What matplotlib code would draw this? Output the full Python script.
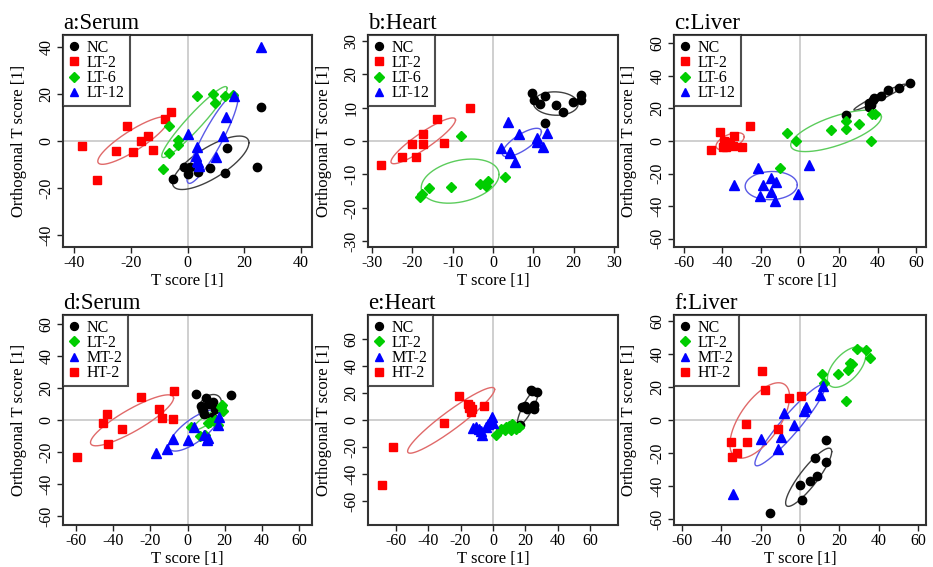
import numpy as np
import matplotlib.pyplot as plt
from matplotlib.lines import Line2D

plt.rcParams["font.family"] = ["Liberation Serif", "DejaVu Serif"]
plt.rcParams["axes.unicode_minus"] = False
plt.rcParams["font.size"] = 12
plt.rcParams["axes.linewidth"] = 1.5

# ---- a:Serum ----
a_nc_x = [-5.3, -1.4, 0.1, 0.9, 3.7, 8.1, 13.1, 14.0, 24.5, 25.9]
a_nc_y = [-16.3, -11.2, -13.8, -11.2, -13.0, -11.6, -13.5, -3.1, -10.9, 14.6]
a_lt2_x = [-37.4, -32.1, -25.1, -21.4, -19.3, -16.5, -13.8, -12.3, -8.1, -5.9]
a_lt2_y = [-2.1, -16.6, -4.1, 6.5, -4.8, 0.1, 2.1, -3.8, 9.2, 12.5]
a_lt6_x = [-8.8, -6.5, -6.5, -3.4, -3.4, 3.3, 9.0, 9.8, 13.1, 16.2]
a_lt6_y = [-12.0, 6.4, -5.0, 0.4, -1.7, 19.1, 20.0, 16.0, 19.3, 19.6]
a_lt12_x = [26.1, 16.4, 13.7, 12.4, 10.2, 0.1, 3.3, 3.0, 3.5, 4.0, 3.6]
a_lt12_y = [39.7, 18.9, 10.2, 2.0, -6.9, 3.0, -2.5, -6.5, -8.5, -10.5, -9.0]
# ellipses: centre x, centre y, half x-extent, half y-extent, tilt
a_nc_ell = [8.2, -9.25, 13.5, 11.35, 0.75]
a_lt2_ell = [-19.2, 0.2, 12.5, 10.1, 0.87]
a_lt6_ell = [2.45, 8.05, 11.55, 15.05, 0.95]
a_lt12_ell = [8.85, 1.15, 9.05, 19.15, 0.9]

# ---- b:Heart ----
b_nc_x = [9.6, 10.2, 11.6, 12.9, 15.6, 17.4, 19.9, 21.8, 21.8, 12.9]
b_nc_y = [14.5, 12.2, 11.0, 13.5, 10.9, 8.7, 11.7, 13.9, 12.4, 5.3]
b_lt2_x = [-27.7, -22.6, -20.2, -19.2, -17.4, -17.3, -14.0, -12.2, -5.8]
b_lt2_y = [-7.1, -4.9, -0.9, -4.9, 2.1, -0.9, 6.7, -0.7, 10.0]
b_lt6_x = [-18.0, -17.7, -15.9, -10.5, -8.0, -3.3, -1.8, -1.2, 3.0]
b_lt6_y = [-16.6, -15.8, -14.1, -13.9, 1.5, -12.9, -13.4, -12.1, -10.9]
b_lt12_x = [3.7, 1.9, 4.1, 4.2, 5.4, 6.5, 10.9, 11.0, 12.3, 13.3]
b_lt12_y = [5.8, -2.2, -3.2, -3.7, -6.4, 2.0, 0.8, -0.2, -1.7, 2.5]
b_nc_ell = [15.55, 11.2, 5.55, 3.5, -0.05]
b_lt2_ell = [-17.3, 0.05, 8.0, 6.85, 0.91]
b_lt6_ell = [-8.15, -12.0, 9.65, 6.6, 0.3]
b_lt12_ell = [7.15, -0.45, 4.85, 4.25, 0.76]

# ---- c:Liver ----
c_nc_x = [56.9, 51.0, 45.5, 41.6, 38.2, 35.6, 35.6, 23.5, 36.5, 37.5]
c_nc_y = [35.6, 32.7, 31.5, 27.4, 26.4, 23.0, 20.9, 15.9, 22.0, 25.0]
c_lt2_x = [-45.9, -41.1, -39.9, -39.4, -38.2, -36.0, -34.8, -34.2, -30.1, -25.7]
c_lt2_y = [-5.5, 5.7, -3.9, 0.2, -3.5, -0.4, -3.0, 3.0, -3.5, 9.3]
c_lt6_x = [-6.5, -2.2, -10.3, 15.8, 23.5, 23.5, 30.4, 36.9, 38.9, 36.4]
c_lt6_y = [4.7, 0.0, -16.7, 6.7, 7.3, 12.4, 10.4, 16.5, 16.5, 0.0]
c_lt12_x = [-34.0, -21.6, -19.0, -20.6, -15.1, -12.5, -14.8, -12.9, -0.9, 4.6]
c_lt12_y = [-26.8, -16.7, -26.8, -33.9, -22.8, -25.4, -31.5, -37.0, -32.3, -15.0]
c_nc_ell = [41.1, 26.85, 13.3, 8.0, 0.97]
c_lt2_ell = [-36.05, -0.2, 7.25, 5.3, 0.53]
c_lt6_ell = [18.6, 6.2, 23.4, 12.7, 0.68]
c_lt12_ell = [-14.85, -27.35, 13.45, 8.65, 0.05]

# ---- d:Serum ----
d_nc_x = [4.6, 23.6, 10.0, 13.9, 7.1, 14.8, 8.2, 13.0, 9.0, 11.5]
d_nc_y = [16.5, 15.4, 13.8, 11.3, 8.8, 7.1, 6.1, 1.9, 3.5, 10.0]
d_lt2_x = [2.0, 6.9, 9.5, 10.8, 12.1, 14.8, 16.5, 17.8, 19.2, 18.3]
d_lt2_y = [-4.6, -9.8, -9.4, -2.1, -1.2, -0.2, -2.9, 8.1, 5.4, 9.4]
d_mt2_x = [-17.2, -11.0, -8.0, 0.0, 3.6, 8.9, 10.3, 11.0, 16.5, 16.9]
d_mt2_y = [-20.5, -18.2, -11.9, -12.5, -4.2, -9.4, -12.5, -11.0, -3.1, 1.7]
d_ht2_x = [-59.5, -45.6, -43.5, -43.0, -35.5, -24.9, -15.5, -13.7, -8.0, -7.1]
d_ht2_y = [-23.0, -2.1, 3.8, -15.2, -5.8, 14.2, 6.7, 1.0, 0.6, 18.4]
d_nc_ell = [12.1, 8.6, 6.2, 7.3, 0.3]
d_lt2_ell = [11.7, 1.05, 8.9, 7.5, 0.9]
d_mt2_ell = [3.65, -6.55, 13.75, 12.85, 0.75]
d_ht2_ell = [-29.85, -0.2, 22.35, 15.9, 0.87]

# ---- e:Heart ----
e_nc_x = [23.7, 27.2, 18.0, 21.1, 25.2, 25.2, 16.6, 24.0, 20.0]
e_nc_y = [22.5, 20.8, 9.3, 7.8, 11.0, 7.8, -3.7, 21.5, 10.0]
e_lt2_x = [2.0, 4.7, 7.8, 9.6, 11.8, 10.8, 13.9, 16.0, 7.2, 12.5]
e_lt2_y = [-11.3, -6.3, -5.1, -4.3, -2.7, -7.6, -6.3, -5.1, -7.6, -4.0]
e_mt2_x = [-12.5, -10.6, -8.6, -6.5, -4.5, -3.0, -1.4, -0.4, 0.2, -7.5]
e_mt2_y = [-6.0, -4.9, -7.0, -11.0, -4.9, -3.0, 0.0, 2.5, -2.0, -8.0]
e_ht2_x = [-68.3, -61.8, -30.1, -20.9, -15.3, -14.7, -13.7, -12.7, -14.0, -5.5]
e_ht2_y = [-48.3, -20.1, -2.0, 17.4, 11.9, 8.6, 6.1, 7.8, 10.0, 10.3]
e_nc_ell = [21.5, 9.5, 6.5, 13.5, 0.85]
e_lt2_ell = None
e_mt2_ell = None
e_ht2_ell = [-25.8, -0.25, 26.8, 24.25, 0.94]

# ---- f:Liver ----
f_nc_x = [13.4, 13.4, 7.6, 8.5, 4.9, 0.0, 1.2, -15.3]
f_nc_y = [-12.1, -25.6, -23.2, -33.9, -36.9, -39.7, -48.8, -56.5]
f_lt2_x = [11.4, 12.2, 19.5, 23.2, 24.6, 25.3, 26.6, 29.2, 33.4, 35.4]
f_lt2_y = [27.8, 22.6, 27.8, 11.7, 30.6, 34.7, 33.7, 43.3, 42.3, 37.7]
f_mt2_x = [-33.9, -19.7, -11.2, -9.5, -8.1, -3.1, 2.0, 2.9, 10.0, 11.7]
f_mt2_y = [-45.0, -11.5, -17.7, -10.5, 4.0, -3.0, 5.6, 7.7, 15.1, 20.8]
f_ht2_x = [-19.2, -17.8, -5.6, 0.5, -27.3, -26.8, -35.3, -34.7, -31.9, -11.4]
f_ht2_y = [29.8, 18.5, 13.1, 14.7, -2.6, -13.1, -13.5, -22.6, -19.8, -5.6]
f_nc_ell = [4.4, -34.75, 11.7, 17.65, 0.88]
f_lt2_ell = [23.65, 32.1, 9.75, 12.3, 0.58]
f_mt2_ell = [-5.1, -3.1, 17.8, 24.7, 0.94]
f_ht2_ell = [-20.45, -0.3, 15.15, 22.9, 0.63]

top_labels = ["NC", "LT-2", "LT-6", "LT-12"]
bottom_labels = ["NC", "LT-2", "MT-2", "HT-2"]

BLACK, RED, GREEN, BLUE = "#000000", "#ff0000", "#00cd00", "#0000ff"
ELL = {BLACK: "#404040", RED: "#e06a6a", GREEN: "#5ccc5c", BLUE: "#5a5ae6"}
style_top = [(BLACK, "o", 6.0), (RED, "s", 5.4), (GREEN, "D", 5.0), (BLUE, "^", 6.8)]
style_bottom = [(BLACK, "o", 6.0), (GREEN, "D", 5.0), (BLUE, "^", 6.8), (RED, "s", 5.4)]

panels = [
    ("a:Serum", [63, 35, 312, 247], (-44, 44), (-45, 45), np.arange(-40, 41, 20), np.arange(-40, 41, 20),
     top_labels, style_top,
     [(a_nc_x, a_nc_y, a_nc_ell), (a_lt2_x, a_lt2_y, a_lt2_ell),
      (a_lt6_x, a_lt6_y, a_lt6_ell), (a_lt12_x, a_lt12_y, a_lt12_ell)]),
    ("b:Heart", [368, 35, 618, 247], (-31, 31), (-31.7, 31.7), np.arange(-30, 31, 10), np.arange(-30, 31, 10),
     top_labels, style_top,
     [(b_nc_x, b_nc_y, b_nc_ell), (b_lt2_x, b_lt2_y, b_lt2_ell),
      (b_lt6_x, b_lt6_y, b_lt6_ell), (b_lt12_x, b_lt12_y, b_lt12_ell)]),
    ("c:Liver", [674, 35, 926, 247], (-65, 65), (-65, 65), np.arange(-60, 61, 20), np.arange(-60, 61, 20),
     top_labels, style_top,
     [(c_nc_x, c_nc_y, c_nc_ell), (c_lt2_x, c_lt2_y, c_lt2_ell),
      (c_lt6_x, c_lt6_y, c_lt6_ell), (c_lt12_x, c_lt12_y, c_lt12_ell)]),
    ("d:Serum", [63, 315, 312, 525], (-67, 67), (-65.5, 65.5), np.arange(-60, 61, 20), np.arange(-60, 61, 20),
     bottom_labels, style_bottom,
     [(d_nc_x, d_nc_y, d_nc_ell), (d_lt2_x, d_lt2_y, d_lt2_ell),
      (d_mt2_x, d_mt2_y, d_mt2_ell), (d_ht2_x, d_ht2_y, d_ht2_ell)]),
    ("e:Heart", [368, 315, 618, 525], (-77, 77), (-77.5, 77.5), np.arange(-60, 61, 20), np.arange(-60, 61, 20),
     bottom_labels, style_bottom,
     [(e_nc_x, e_nc_y, e_nc_ell), (e_lt2_x, e_lt2_y, e_lt2_ell),
      (e_mt2_x, e_mt2_y, e_mt2_ell), (e_ht2_x, e_ht2_y, e_ht2_ell)]),
    ("f:Liver", [674, 315, 926, 525], (-64, 64), (-63.7, 63.7), np.arange(-60, 61, 20), np.arange(-60, 61, 20),
     bottom_labels, style_bottom,
     [(f_nc_x, f_nc_y, f_nc_ell), (f_lt2_x, f_lt2_y, f_lt2_ell),
      (f_mt2_x, f_mt2_y, f_mt2_ell), (f_ht2_x, f_ht2_y, f_ht2_ell)]),
]

W, H = 933, 567
fig = plt.figure(figsize=(W / 100, H / 100), dpi=100)
t = np.linspace(0, 2 * np.pi, 240)

for title, box, xlim, ylim, xt, yt, labels, styles, groups in panels:
    x0, y0, x1, y1 = box
    ax = fig.add_axes([x0 / W, 1 - y1 / H, (x1 - x0) / W, (y1 - y0) / H])
    ax.axhline(0, color="#cccccc", lw=1.3, zorder=0)
    ax.axvline(0, color="#cccccc", lw=1.3, zorder=0)

    handles = []
    for (gx, gy, ell), (col, mk, ms), lab in zip(groups, styles, labels):
        ax.plot(gx, gy, ls="none", marker=mk, ms=ms, color=col, mec=col, zorder=3)
        if ell is not None:
            cx, cy, rx, ry, s = ell
            ex = cx + rx * np.cos(t)
            ey = cy + ry * (s * np.cos(t) + np.sqrt(1 - s * s) * np.sin(t))
            ax.plot(ex, ey, color=ELL[col], lw=1.0, zorder=2)
        handles.append(Line2D([], [], ls="none", marker=mk, ms=ms * 0.95, color=col, label=lab))

    ax.set_xlim(*xlim)
    ax.set_ylim(*ylim)
    ax.set_xticks(xt)
    ax.set_yticks(yt)
    ax.tick_params(direction="out", length=4, width=1, colors="#222222", labelcolor="black",
                   pad=2, labelsize=11.5)
    ax.tick_params(axis="y", labelrotation=90)
    for lbl in ax.get_yticklabels():
        lbl.set_va("center")
    for sp in ax.spines.values():
        sp.set_color("#333333")

    ax.set_xlabel("T score [1]", fontsize=12)
    ax.set_ylabel("Orthogonal T score [1]", fontsize=12)
    ax.xaxis.set_label_coords(0.5, -0.122)
    ax.yaxis.set_label_coords(-0.145, 0.5)
    ax.set_title(title, loc="left", fontsize=16.5, pad=4)

    leg = ax.legend(handles=handles, loc="upper left", borderaxespad=0, frameon=True,
                    fancybox=False, fontsize=11.5, handlelength=0.8, handletextpad=0.4,
                    labelspacing=-0.05, borderpad=0.3)
    leg.get_frame().set_edgecolor("#222222")
    leg.get_frame().set_linewidth(1.5)
    leg.set_zorder(5)

fig.savefig("out.png", dpi=100)
